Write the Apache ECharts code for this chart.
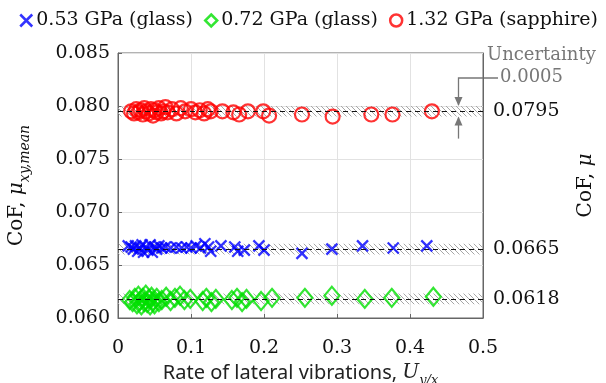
<!DOCTYPE html>
<html><head><meta charset="utf-8">
<script src="https://cdn.jsdelivr.net/npm/echarts@6/dist/echarts.min.js"></script>
<style>html,body{margin:0;padding:0;background:#fff}#c{width:606px;height:383px}</style>
</head><body><div id="c"></div>
<script>
const xTicks = [0, 0.1, 0.2, 0.3, 0.4, 0.5];
const yTicks = [0.060, 0.065, 0.070, 0.075, 0.080, 0.085];
const seriesNames = ['0.53 GPa (glass)', '0.72 GPa (glass)', '1.32 GPa (sapphire)'];
const refLines = [0.0665, 0.0618, 0.0795];
const uncertainty = 0.0005;
const blueData = [[0.014,0.0668],[0.018,0.0667],[0.021,0.0665],[0.024,0.0668],[0.027,0.0663],[0.030,0.0666],[0.033,0.0669],[0.035,0.0662],[0.038,0.0667],[0.041,0.0664],[0.044,0.0669],[0.047,0.0662],[0.050,0.0667],[0.053,0.0665],[0.056,0.0668],[0.060,0.0666],[0.065,0.0667],[0.072,0.0666],[0.080,0.0667],[0.087,0.0666],[0.094,0.0667],[0.100,0.0666],[0.107,0.0668],[0.113,0.0666],[0.119,0.0670],[0.124,0.0667],[0.127,0.0663],[0.141,0.0668],[0.160,0.0667],[0.164,0.0663],[0.173,0.0664],[0.193,0.0668],[0.200,0.0664],[0.252,0.0661],[0.293,0.0665],[0.335,0.0668],[0.377,0.0666],[0.423,0.0668]];
const greenData = [[0.016,0.0617],[0.020,0.0615],[0.023,0.0619],[0.026,0.0613],[0.028,0.0621],[0.030,0.0616],[0.032,0.0612],[0.034,0.0619],[0.036,0.0615],[0.038,0.0622],[0.040,0.0614],[0.042,0.0618],[0.044,0.0612],[0.046,0.0620],[0.048,0.0616],[0.050,0.0613],[0.053,0.0619],[0.056,0.0615],[0.060,0.0617],[0.066,0.0620],[0.072,0.0616],[0.078,0.0619],[0.085,0.0621],[0.091,0.0617],[0.099,0.0618],[0.116,0.0616],[0.121,0.0619],[0.128,0.0615],[0.134,0.0618],[0.156,0.0617],[0.163,0.0619],[0.170,0.0615],[0.176,0.0618],[0.196,0.0616],[0.211,0.0619],[0.256,0.0619],[0.293,0.0621],[0.338,0.0618],[0.375,0.0619],[0.432,0.0620]];
const redData = [[0.018,0.0795],[0.022,0.0793],[0.025,0.0797],[0.028,0.0794],[0.031,0.0796],[0.034,0.0792],[0.036,0.0798],[0.039,0.0795],[0.042,0.0793],[0.045,0.0797],[0.048,0.0791],[0.050,0.0796],[0.053,0.0794],[0.056,0.0798],[0.059,0.0793],[0.062,0.0795],[0.065,0.0799],[0.068,0.0794],[0.074,0.0797],[0.080,0.0793],[0.086,0.0798],[0.092,0.0795],[0.100,0.0797],[0.106,0.0794],[0.112,0.0796],[0.118,0.0793],[0.123,0.0797],[0.127,0.0795],[0.143,0.0795],[0.158,0.0794],[0.166,0.0792],[0.178,0.0795],[0.199,0.0795],[0.207,0.0791],[0.252,0.0792],[0.294,0.0790],[0.347,0.0792],[0.376,0.0792],[0.430,0.0795]];
const arrowX = 0.466;

const SERIF = 'DejaVu Serif';
const crossPath = 'path://M0,0L10,10M0,10L10,0';

// hatch pattern
const pc = document.createElement('canvas');
pc.width = 5; pc.height = 5;
const pctx = pc.getContext('2d');
pctx.strokeStyle = '#a8a8a8'; pctx.lineWidth = 1;
pctx.beginPath(); pctx.moveTo(-1,-1); pctx.lineTo(6,6); pctx.stroke();
pctx.beginPath(); pctx.moveTo(-1,4); pctx.lineTo(1,6); pctx.stroke();
pctx.beginPath(); pctx.moveTo(4,-1); pctx.lineTo(6,1); pctx.stroke();

const chart = echarts.init(document.getElementById('c'), null, {renderer:'canvas'});
const option = {
  animation: false,
  grid: {left: 118, right: 123, top: 53, bottom: 65, show: true, borderColor: '#666', borderWidth: 1,
    containLabel: false, outerBoundsMode: 'none'},
  legend: {
    left: 14, top: 6, itemWidth: 12, itemHeight: 12, itemGap: 11,
    textStyle: {fontFamily: SERIF, fontSize: 19, color: '#111', padding: [0,0,0,-1]},
    data: [
      {name: seriesNames[0], icon: crossPath, itemStyle: {color: 'rgba(0,0,0,0)', borderColor: '#0000ff', borderWidth: 2.5}},
      {name: seriesNames[1], icon: 'diamond', itemStyle: {color: 'rgba(0,0,0,0)', borderColor: '#00e000', borderWidth: 2.5}},
      {name: seriesNames[2], icon: 'circle', itemStyle: {color: 'rgba(0,0,0,0)', borderColor: '#ff0000', borderWidth: 2.5}}
    ]
  },
  xAxis: {
    type: 'value', min: xTicks[0], max: xTicks[xTicks.length-1], interval: 0.1,
    name: '{n|Rate of lateral vibrations, }{u|U}{s|y/x}', nameLocation: 'middle', nameGap: 38,
    nameTextStyle: {rich: {
      n: {fontFamily: 'Noto Sans', fontSize: 20, color: '#222'},
      u: {fontFamily: SERIF, fontSize: 20, fontStyle: 'italic', color: '#222'},
      s: {fontFamily: SERIF, fontSize: 13, fontStyle: 'italic', color: '#222', padding: [16,0,0,0]}
    }},
    axisLine: {lineStyle: {color: '#666'}},
    axisTick: {inside: true, length: 4, lineStyle: {color: '#666'}},
    axisLabel: {fontFamily: SERIF, fontSize: 19, color: '#111', margin: 21, formatter: v => String(+v.toFixed(1))},
    splitLine: {show: true, lineStyle: {color: '#e2e2e2'}}
  },
  yAxis: [{
    type: 'value', min: yTicks[0], max: yTicks[yTicks.length-1], interval: 0.005,
    name: '{n|CoF, }{m|μ}{s|xy,mean}', nameLocation: 'middle', nameGap: 86,
    nameTextStyle: {rich: {
      n: {fontFamily: SERIF, fontSize: 20, color: '#111'},
      m: {fontFamily: SERIF, fontSize: 20, fontStyle: 'italic', color: '#111'},
      s: {fontFamily: SERIF, fontSize: 14, fontStyle: 'italic', color: '#111', padding: [16,0,0,0]}
    }},
    axisLine: {show: true, lineStyle: {color: '#666'}},
    axisTick: {show: true, inside: true, length: 4, lineStyle: {color: '#666'}},
    axisLabel: {fontFamily: SERIF, fontSize: 19, color: '#111', margin: 8, formatter: v => v.toFixed(3)},
    splitLine: {show: true, lineStyle: {color: '#e2e2e2'}}
  }, {
    type: 'value', min: yTicks[0], max: yTicks[yTicks.length-1], interval: 0.005, position: 'right',
    name: '{n|CoF, }{m|μ}', nameLocation: 'middle', nameGap: 93, nameRotate: 90,
    nameTextStyle: {rich: {
      n: {fontFamily: SERIF, fontSize: 20, color: '#111'},
      m: {fontFamily: SERIF, fontSize: 20, fontStyle: 'italic', color: '#111'}
    }},
    axisLine: {show: true, lineStyle: {color: '#666'}},
    axisTick: {show: false}, axisLabel: {show: false}, splitLine: {show: false}
  }],
  series: [
    {
      name: 'ref', type: 'line', data: [], z: 1, silent: true,
      markArea: {silent: true, itemStyle: {color: {image: pc, repeat: 'repeat'}},
        data: refLines.map(v => [{yAxis: v - uncertainty, x: 118}, {yAxis: v + uncertainty, x: 483}])},
      markLine: {silent: true, symbol: 'none', precision: 4,
        lineStyle: {color: '#111', type: [5,4], width: 1},
        label: {show: true, position: 'end', distance: 10, fontFamily: SERIF, fontSize: 19, color: '#111', formatter: p => p.value.toFixed(4)},
        data: refLines.map(v => ({yAxis: v}))}
    },
    {name: seriesNames[0], type: 'scatter', data: blueData, symbol: crossPath, symbolSize: 11, z: 3,
      itemStyle: {color: 'rgba(0,0,0,0)', borderColor: '#0000ff', borderWidth: 2.3}},
    {name: seriesNames[1], type: 'scatter', data: greenData, symbol: 'diamond', symbolSize: [15, 18], z: 3,
      itemStyle: {color: 'rgba(0,0,0,0)', borderColor: '#00e000', borderWidth: 2.2}},
    {name: seriesNames[2], type: 'scatter', data: redData, symbol: 'circle', symbolSize: 14, z: 3,
      itemStyle: {color: 'rgba(0,0,0,0)', borderColor: '#ff0000', borderWidth: 2.2}}
  ]
};
chart.setOption(option);

const red = refLines[2];
const pTop = chart.convertToPixel({xAxisIndex: 0, yAxisIndex: 0}, [arrowX, red + uncertainty]);
const pBot = chart.convertToPixel({xAxisIndex: 0, yAxisIndex: 0}, [arrowX, red - uncertainty]);
const gray = '#777';
const ax = Math.round(pTop[0]) + 0.5;
chart.setOption({graphic: [
  {type: 'polyline', shape: {points: [[498, 78], [ax, 78], [ax, pTop[1] - 1]]}, style: {stroke: gray, lineWidth: 1.3, fill: null}},
  {type: 'polygon', shape: {points: [[ax - 4, pTop[1] - 9], [ax + 4, pTop[1] - 9], [ax, pTop[1]]]}, style: {fill: gray}},
  {type: 'line', shape: {x1: ax, y1: pBot[1] + 1, x2: ax, y2: pBot[1] + 22}, style: {stroke: gray, lineWidth: 1.3}},
  {type: 'polygon', shape: {points: [[ax - 4, pBot[1] + 9], [ax + 4, pBot[1] + 9], [ax, pBot[1]]]}, style: {fill: gray}},
  {type: 'text', left: 487, top: 46, style: {text: 'Uncertainty', fontFamily: SERIF, fontSize: 18, fill: gray}},
  {type: 'text', left: 500, top: 68, style: {text: '0.0005', fontFamily: SERIF, fontSize: 18, fill: gray}}
]});
</script></body></html>
